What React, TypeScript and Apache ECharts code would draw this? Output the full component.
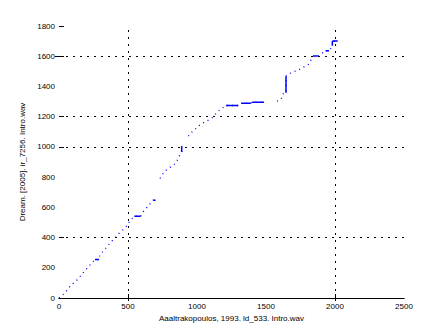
import React, { useEffect, useRef } from "react";
import * as echarts from "echarts";

// Alignment path (x: reference frames, y: target frames); null = break in drawn path
const pathX: (number | null)[] = [
  0, 43, 80, 116, 135, 169, 201, 220, 261, 290, 297, 326, 357, 393, 418, 442, 466, 495, 514, 546, 592, 611, 647, 683, 700,
  null,
  732, 751, 768, 792, 810, 823, 848, 858, 877, 889, 889,
  null,
  937, 961, 978, 992, 1004, 1026, 1045, 1065, 1094, 1118, 1138, 1162, 1179, 1210, 1300, 1312, 1326, 1390, 1399, 1486,
  null,
  1580, 1594, 1609, 1626, 1645, 1645, 1662, 1691, 1717, 1741, 1766, 1802, 1814, 1831, 1843, 1875, 1904, 1920, 1932, 1957, 1981, 1981, 2020,
];
const pathY: (number | null)[] = [
  0, 33, 77, 109, 122, 161, 195, 214, 254, 254, 287, 316, 349, 387, 409, 435, 453, 481, 510, 541, 541, 572, 610, 647, 647,
  null,
  791, 819, 839, 857, 868, 874, 896, 912, 950, 967, 1005,
  null,
  1071, 1096, 1111, 1122, 1133, 1148, 1159, 1170, 1181, 1199, 1221, 1243, 1254, 1274, 1274, 1287, 1289, 1289, 1296, 1296,
  null,
  1303, 1308, 1314, 1354, 1358, 1468, 1482, 1493, 1503, 1512, 1526, 1541, 1552, 1585, 1601, 1601, 1618, 1629, 1636, 1636, 1669, 1700, 1700,
];

// Solid (flat / vertical) stretches of the path: [x1, y1, x2, y2]
const solidSegments: number[][] = [
  [261, 254, 290, 254],
  [546, 541, 592, 541],
  [683, 647, 700, 647],
  [889, 967, 889, 1005],
  [1210, 1274, 1300, 1274],
  [1326, 1289, 1390, 1289],
  [1399, 1296, 1486, 1296],
  [1645, 1358, 1645, 1468],
  [1843, 1601, 1875, 1601],
  [1932, 1636, 1957, 1636],
  [1981, 1669, 1981, 1700],
  [1981, 1700, 2020, 1700],
];

// Grid lines visible in the picture
const xGridValues = [500, 2000];
const yGridValues = [400, 1000, 1200, 1600];
const xTickValues = [500, 2000];
const yTickValuesLeft = [400, 1000, 1200, 1600, 1800];
const yTickValuesRight = [1600];

const xAxisName = "Aaaltrakopoulos, 1993. ld_533. Intro.wav";
const yAxisName = "Dream. [2005]. ir_7256. Intro.wav";

const FONT = "Liberation Sans, Arial, sans-serif";
const BLUE = "#0000ff";

export default function App() {
  const ref = useRef<HTMLDivElement>(null);
  useEffect(() => {
    if (!ref.current) return;
    const chart = echarts.init(ref.current, undefined, { renderer: "svg" });

    const pathData = pathX.map((x, i) =>
      x === null || pathY[i] === null ? [null, null] : [x, pathY[i]]
    );
    const solidData: any[] = [];
    solidSegments.forEach((s, i) => {
      if (i > 0) solidData.push([null, null]);
      solidData.push([s[0], s[1]]);
      solidData.push([s[2], s[3]]);
    });

    const gridLineStyle = { color: "#000", width: 1, type: [2, 5] as any, opacity: 1 };
    const markLines = [
      ...xGridValues.map((v) => ({ xAxis: v })),
      ...yGridValues.map((v) => ({ yAxis: v })),
    ];
    const fmt = (v: number) => String(v);

    chart.setOption({
      animation: false,
      backgroundColor: "#fff",
      color: [BLUE, BLUE],
      grid: { left: 59, right: 43, top: 26, bottom: 37, containLabel: false },
      xAxis: [
        {
          type: "value",
          min: 0,
          max: 2500,
          interval: 500,
          position: "bottom",
          name: xAxisName,
          nameLocation: "middle",
          nameGap: 13,
          nameTextStyle: { fontFamily: FONT, fontSize: 8, color: "#000" },
          axisLine: { show: true, lineStyle: { color: "#000", width: 1 } },
          axisTick: { show: true, inside: true, length: 4, customValues: xTickValues, lineStyle: { color: "#000" } },
          axisLabel: { fontFamily: FONT, fontSize: 8, color: "#000", margin: 4, formatter: fmt },
          splitLine: { show: false },
        },
        {
          type: "value",
          min: 0,
          max: 2500,
          interval: 500,
          position: "top",
          axisLine: { show: true, lineStyle: { color: "#000", width: 1 } },
          axisTick: { show: true, inside: true, length: 3, customValues: xTickValues, lineStyle: { color: "#000" } },
          axisLabel: { show: false },
          splitLine: { show: false },
        },
      ],
      yAxis: [
        {
          type: "value",
          min: 0,
          max: 1800,
          interval: 200,
          position: "left",
          name: yAxisName,
          nameLocation: "middle",
          nameGap: 30,
          nameRotate: 90,
          nameTextStyle: { fontFamily: FONT, fontSize: 8, color: "#000" },
          axisLine: { show: false },
          axisTick: { show: true, inside: true, length: 5, customValues: yTickValuesLeft, lineStyle: { color: "#000" } },
          axisLabel: { fontFamily: FONT, fontSize: 8, color: "#000", margin: 4, formatter: fmt },
          splitLine: { show: false },
        },
        {
          type: "value",
          min: 0,
          max: 1800,
          interval: 200,
          position: "right",
          axisLine: { show: false },
          axisTick: { show: true, inside: true, length: 4, customValues: yTickValuesRight, lineStyle: { color: "#000" } },
          axisLabel: { show: false },
          splitLine: { show: false },
        },
      ],
      series: [
        {
          type: "line",
          data: pathData,
          showSymbol: false,
          connectNulls: false,
          itemStyle: { color: BLUE },
          lineStyle: { color: BLUE, width: 1.3, type: [1, 4] as any },
          z: 3,
          markLine: {
            silent: true,
            symbol: ["none", "none"],
            label: { show: false },
            lineStyle: gridLineStyle,
            data: markLines,
          },
        },
        {
          type: "line",
          data: solidData,
          showSymbol: false,
          connectNulls: false,
          itemStyle: { color: BLUE },
          lineStyle: { color: BLUE, width: 1.5 },
          z: 4,
        },
      ],
    });
    return () => chart.dispose();
  }, []);
  return (
    <div
      ref={ref}
      style={{ position: "fixed", left: 0, top: 0, width: 447, height: 335, background: "#fff" }}
    />
  );
}
